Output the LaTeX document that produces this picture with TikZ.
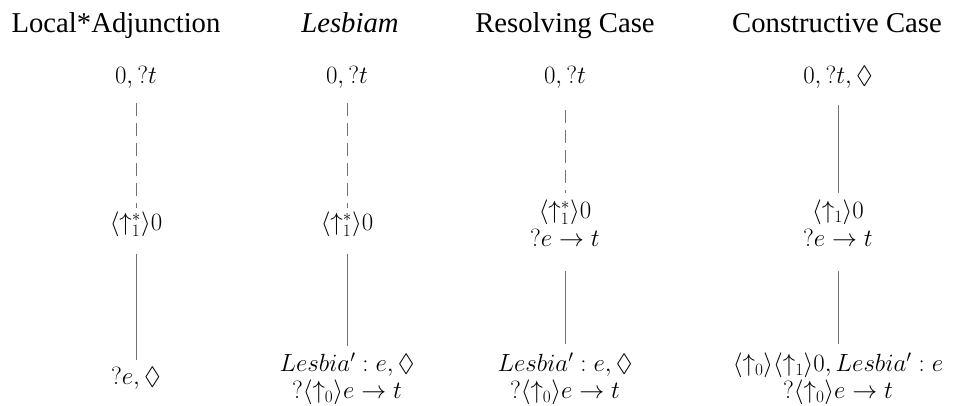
\documentclass[tikz,border=0pt]{standalone}
\usepackage{amssymb}
\usepackage{fontspec}
\newfontfamily\headfont{Liberation Serif}
\usetikzlibrary{positioning}
\colorlet{edgegray}{black!55}

\begin{document}
\begin{tikzpicture}[x=1pt,y=-1pt,on grid]
\tikzstyle{casehead} = [font=\headfont\fontsize{28.7}{34}\selectfont, text height=20pt, text depth=6pt, inner sep=0pt]
\tikzstyle{term} = [font=\fontsize{25}{27.5}\selectfont, align=center, inner sep=0pt]
\tikzstyle{dashedge} = [draw=edgegray, line width=0.8pt, dash pattern=on 13pt off 7pt]
\tikzstyle{solidedge} = [draw=edgegray, line width=0.8pt]

\useasboundingbox (0,0) rectangle (958,406);

% headings
\node (h1) [casehead] at (116,26) {Local*Adjunction};
\node (h2) [casehead] at (350,26) {\itshape Lesbiam};
\node (h3) [casehead] at (565,26) {Resolving Case};
\node (h4) [casehead] at (837,26) {Constructive Case};

% Local*Adjunction
\node (t1) [term] at (136,77) {$0, ?t$};
\node (m1) [term, below=147pt of t1] {$\langle\uparrow_1^*\rangle 0$};
\node (b1) [term, below=154pt of m1] {$?e, \Diamond$};

% Lesbiam
\node (t2) [term] at (347,77) {$0, ?t$};
\node (m2) [term, below=147pt of t2] {$\langle\uparrow_1^*\rangle 0$};
\node (b2) [term, below=155pt of m2] {$Lesbia' : e, \Diamond$\\ $?\langle\uparrow_0\rangle e \to t$};

% Resolving Case
\node (t3) [term] at (565,77) {$0, ?t$};
\node (m3) [term, below=146pt of t3] {$\langle\uparrow_1^*\rangle 0$\\ $?e \to t$};
\node (b3) [term, below=156pt of m3] {$Lesbia' : e, \Diamond$\\ $?\langle\uparrow_0\rangle e \to t$};

% Constructive Case
\node (t4) [term] at (838,77) {$0, ?t, \Diamond$};
\node (m4) [term, below=146pt of t4] {$\langle\uparrow_1\rangle 0$\\ $?e \to t$};
\node (b4) [term, below=156pt of m4] {$\langle\uparrow_0\rangle\langle\uparrow_1\rangle 0, Lesbia' : e$\\ $?\langle\uparrow_0\rangle e \to t$};

\draw [dashedge, shorten <=15pt, shorten >=3pt] (t1) -- (m1);
\draw [solidedge, shorten <=17pt, shorten >=7pt] (m1) -- (b1);
\draw [dashedge, shorten <=15pt, shorten >=3pt] (t2) -- (m2);
\draw [solidedge, shorten <=17pt, shorten >=7pt] (m2) -- (b2);
\draw [dashedge, shorten <=22pt, shorten >=7pt] (t3) -- (m3);
\draw [solidedge, shorten <=25pt, shorten >=9pt] (m3) -- (b3);
\draw [solidedge, shorten <=17pt, shorten >=7pt] (t4) -- (m4);
\draw [solidedge, shorten <=25pt, shorten >=9pt] (m4) -- (b4);
\end{tikzpicture}
\end{document}
